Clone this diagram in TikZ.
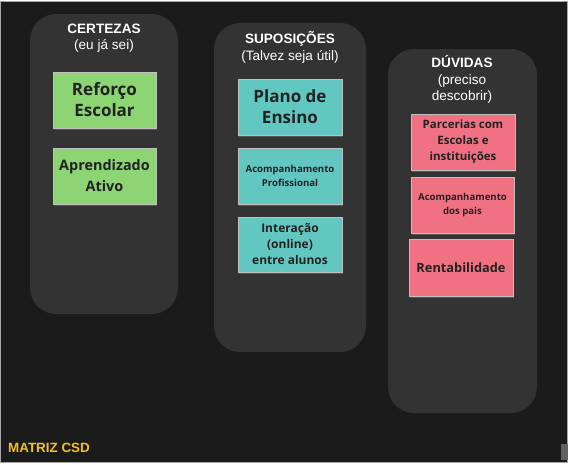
\documentclass[tikz,border=0pt]{standalone}
\usepackage{fontspec}
\setmainfont{Liberation Sans}
\newfontfamily\notefont{Open Sans}
\usetikzlibrary{shadows}
\definecolor{board}{HTML}{1B1B1B}
\definecolor{column}{HTML}{333333}
\definecolor{certcol}{HTML}{8CD474}
\definecolor{supcol}{HTML}{62C7C0}
\definecolor{duvcol}{HTML}{F07282}
\definecolor{notetext}{HTML}{222222}
\definecolor{csdyellow}{HTML}{F2C21B}
\tikzset{
  lane/.style={fill=column, rounded corners=26pt},
  header/.style={text=white, align=center, inner sep=0pt,
    font=\fontsize{13.6}{16.5}\selectfont},
  note/.style={minimum width=103pt, minimum height=56pt, inner sep=0pt,
    align=center, text=notetext, draw=black!25, line width=0.3pt,
    drop shadow={shadow xshift=0.6pt, shadow yshift=-1.8pt, opacity=0.45}},
  bignote/.style={note, font=\notefont\bfseries\fontsize{17}{21}\selectfont},
  midnote/.style={note, font=\notefont\bfseries\fontsize{12}{16}\selectfont},
  smallnote/.style={note, font=\notefont\bfseries\fontsize{9.6}{13.8}\selectfont}
}
\begin{document}
\begin{tikzpicture}[x=1pt, y=-1pt]
    \useasboundingbox (0,0) rectangle (571,464);
    % board
    \fill[white] (0,0) rectangle (571,464);
    \filldraw[fill=board, draw=black!35] (0,1.5) rectangle (567.5,462.5);

    % three lanes
    \fill[lane] (30,14) rectangle (178,314);
    \fill[lane] (214,23) rectangle (366,352);
    \fill[lane] (388,49) rectangle (537,413);

    % lane titles
    \node[header] (hdcert) at (104,38) {\textbf{CERTEZAS}\\(eu já sei)};
    \node[header] (hdsup) at (290,47.5) {\textbf{SUPOSIÇÕES}\\(Talvez seja útil)};
    \node[header] (hdduv) at (462,79.5) {\textbf{DÚVIDAS}\\(preciso\\descobrir)};

    % certezas
    \node[bignote, fill=certcol] (reforco) at (104.5,100) {Reforço\\Escolar};
    \node[midnote, fill=certcol, font=\notefont\bfseries\fontsize{14.4}{21}\selectfont]
      (aprend) at (104.5,176) {Aprendizado\\Ativo};

    % suposicoes
    \node[bignote, fill=supcol, minimum width=104pt] (plano) at (290,107) {Plano de\\Ensino};
    \node[smallnote, fill=supcol, minimum width=104pt] (acprof) at (290,176)
      {Acompanhamento\\Profissional};
    \node[midnote, fill=supcol, minimum width=104pt, minimum height=55pt] (intera) at (290,244.5)
      {Interação\\(online)\\entre alunos};

    % duvidas
    \node[midnote, fill=duvcol, minimum width=104pt,
      font=\notefont\bfseries\fontsize{11.5}{16}\selectfont] (parc) at (463,142)
      {Parcerias com\\Escolas e\\instituições};
    \node[smallnote, fill=duvcol] (acpais) at (462.5,205) {Acompanhamento\\dos pais};
    \node[midnote, fill=duvcol, minimum width=104pt, minimum height=57pt,
      font=\notefont\bfseries\fontsize{12.8}{16}\selectfont] (rent) at (461,267.5) {Rentabilidade};

    % footer
    \node[anchor=west, inner sep=0pt, text=csdyellow,
      font=\bfseries\fontsize{13.4}{16}\selectfont] (matriz) at (8,447.5) {MATRIZ CSD};
    \fill[black!62] (561,444) rectangle (567.5,459.5);
\end{tikzpicture}
\end{document}
